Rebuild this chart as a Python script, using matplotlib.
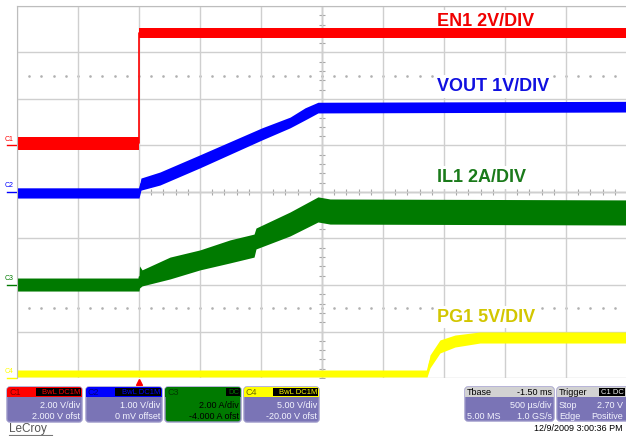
import numpy as np
import matplotlib.pyplot as plt
import matplotlib.transforms as mtransforms
from matplotlib.patches import FancyBboxPatch, Rectangle

plt.rcParams['font.family'] = ['Liberation Sans', 'DejaVu Sans']

# canales: nombre, V/div, offset, color de traza
ch_names = ['C1', 'C2', 'C3', 'C4']
ch_vdiv = [2.0, 1.0, 2.0, 5.0]
ch_ofst = [2.0, 0.0, -4.0, -20.0]
ch_colors = ['#ff0000', '#0000ff', '#007a00', '#ffff00']

# base de tiempo: 500 us/div, disparo en t=0, 10 divisiones
t_ini = -1.0
t_fin = 4.0

# EN1 (V) - limites inferior/superior de la banda de ruido
en1_t = [-1.0, 0.0, 0.0, 4.0]
en1_lo = [-0.19, -0.19, 4.62, 4.62]
en1_hi = [0.37, 0.37, 5.05, 5.05]

# VOUT (V)
vout_t = [-1.0, 0.0, 0.016, 0.172, 0.5, 1.008, 1.238, 1.361, 1.467, 4.0]
vout_lo = [-0.13, -0.13, 0.04, 0.15, 0.52, 1.12, 1.38, 1.55, 1.70, 1.72]
vout_hi = [0.09, 0.09, 0.30, 0.43, 0.80, 1.38, 1.61, 1.81, 1.93, 1.95]

# IL1 (A)
il1_t = [-1.0, 0.0, 0.004, 0.025, 0.254, 0.5, 0.746, 0.943, 0.959, 1.238, 1.467, 1.566, 4.0]
il1_lo = [-0.26, -0.26, -0.13, -0.04, 0.26, 0.65, 0.95, 1.20, 1.55, 2.11, 2.71, 2.62, 2.58]
il1_hi = [0.30, 0.30, 0.82, 0.65, 1.20, 1.51, 1.94, 2.19, 2.45, 3.14, 3.79, 3.70, 3.66]

# PG1 (V)
pg1_t = [-1.0, 2.361, 2.385, 2.467, 2.590, 2.795, 4.0]
pg1_lo = [0.11, 0.11, 1.08, 2.69, 3.33, 3.76, 3.76]
pg1_hi = [0.86, 0.86, 2.47, 4.09, 4.62, 4.95, 4.95]

etiquetas = ['EN1 2V/DIV', 'VOUT 1V/DIV', 'IL1 2A/DIV', 'PG1 5V/DIV']
etiq_colors = ['#f00000', '#1010e0', '#1a7a1a', '#d2c600']
etiq_y = [7.67, 6.27, 4.31, 1.31]  # en divisiones
etiq_t = 2.443


def a_div(v, i):
    # valor fisico -> divisiones de pantalla (0 abajo, 8 arriba)
    return 4 + (np.asarray(v) + ch_ofst[i]) / ch_vdiv[i]


fig = plt.figure(figsize=(6.26, 4.36), dpi=100)
ax = fig.add_axes([17 / 626, 58 / 436, 610 / 626, 372 / 436])
ax.set_xlim(t_ini, t_fin)
ax.set_ylim(0, 8)

# reticula
ax.set_xticks(np.arange(t_ini, t_fin + 0.01, 0.5))
ax.set_yticks(np.arange(0, 8.1, 1))
ax.tick_params(length=0, labelbottom=False, labelleft=False)
ax.grid(color='#cfcfcf', lw=1)
ax.set_axisbelow(True)
for s in ['right', 'bottom']:
    ax.spines[s].set_visible(False)
for s in ['left', 'top']:
    ax.spines[s].set_color('#bdbdbd')

# ejes centrales con marcas
t_c = (t_ini + t_fin) / 2
ax.axhline(4, color='#a8a8a8', lw=1, zorder=0.5)
ax.axvline(t_c, color='#a8a8a8', lw=1, zorder=0.5)
ax.plot(np.arange(t_ini, t_fin, 0.1), np.full(50, 4.0), ls='none', marker='|', ms=4,
        color='#a8a8a8', mew=0.8, zorder=0.5)
ax.plot(np.full(40, t_c), np.arange(0, 8, 0.2), ls='none', marker='_', ms=4,
        color='#a8a8a8', mew=0.8, zorder=0.5)
for yd in [1.5, 6.5]:
    ax.plot(np.arange(t_ini + 0.1, t_fin, 0.1), np.full(49, yd), ls='none', marker='s',
            ms=0.8, color='#b0b0b0', zorder=0.5)

# trazas
trazas = [(pg1_t, pg1_lo, pg1_hi, 3), (il1_t, il1_lo, il1_hi, 2),
          (vout_t, vout_lo, vout_hi, 1), (en1_t, en1_lo, en1_hi, 0)]
for t, lo, hi, i in trazas:
    lo_d = a_div(lo, i)
    hi_d = a_div(hi, i)
    ax.fill_between(t, lo_d, hi_d, color=ch_colors[i], lw=0, zorder=2)
    ax.plot(t, (lo_d + hi_d) / 2, color=ch_colors[i], lw=1.2, zorder=2)

# rotulos de cada canal (fondo blanco sobre la reticula, bajo las trazas)
for txt, col, yy in zip(etiquetas, etiq_colors, etiq_y):
    ax.text(etiq_t, yy, txt, color=col, fontsize=13, fontweight='bold', ha='left',
            va='center', zorder=1.5,
            bbox=dict(facecolor='white', edgecolor='none', pad=2))

# marcadores de tierra a la izquierda
trans = mtransforms.blended_transform_factory(ax.transAxes, ax.transData)
for i, nm in enumerate(ch_names):
    g = a_div(0.0, i)
    ax.plot([-0.017, -0.002], [g, g], transform=trans, color=ch_colors[i], lw=1,
            clip_on=False)
    ax.text(-0.020, g + 0.06, nm, transform=trans, color=ch_colors[i], fontsize=5,
            ha='left', va='bottom', clip_on=False)

# marcador de disparo
ax.plot([0.0], [-0.011], marker='^', ms=4.5, color='#ff0000', clip_on=False,
        transform=mtransforms.blended_transform_factory(ax.transData, ax.transAxes))

# panel inferior en pixeles
pan = fig.add_axes([0, 0, 1, 1])
pan.set_xlim(0, 626)
pan.set_ylim(436, 0)
pan.axis('off')
pan.patch.set_alpha(0)

morado = '#7a74b6'
borde = '#9a96c8'


def caja(x0, x1, y0, y1, cab_col, cuerpo_col):
    pan.add_patch(FancyBboxPatch((x0, y0), x1 - x0, y1 - y0,
                                 boxstyle='round,pad=0,rounding_size=3',
                                 fc=cuerpo_col, ec=borde, lw=1))
    pan.add_patch(FancyBboxPatch((x0, y0), x1 - x0, 10,
                                 boxstyle='round,pad=0,rounding_size=3',
                                 fc=cab_col, ec='none'))
    pan.add_patch(Rectangle((x0, y0 + 5), x1 - x0, 5, fc=cab_col, ec='none'))


def etiqueta_negra(x0, x1, y0, txt, col):
    pan.add_patch(Rectangle((x0, y0 + 1), x1 - x0, 8, fc='black', ec='none'))
    pan.text(x1 - 1, y0 + 5.2, txt, color=col, fontsize=5.5, ha='right', va='center')


cajas = [(7, 82), (86, 162), (165, 241), (244, 319)]
cab_txt = ['#7a0000', '#00007a', '#003a00', '#6a6a00']
tags = ['BwL DC1M', 'BwL DC1M', 'DC', 'BwL DC1M']
tag_x0 = [36, 115, 226, 273]
lin1 = ['2.00 V/div', '1.00 V/div', '2.00 A/div', '5.00 V/div']
lin2 = ['2.000 V ofst', '0 mV offset', '-4.000 A ofst', '-20.00 V ofst']
for i, (x0, x1) in enumerate(cajas):
    cuerpo = ch_colors[i] if i == 2 else morado
    txt_col = 'black' if i == 2 else '#f4f4ff'
    caja(x0, x1, 387, 422, ch_colors[i], cuerpo)
    pan.text(x0 + 2, 392, ch_names[i], color=cab_txt[i], fontsize=6.5, ha='left', va='center')
    etiqueta_negra(tag_x0[i], x1 - 1, 387, tags[i], ch_colors[i])
    pan.text(x1 - 2, 405, lin1[i], color=txt_col, fontsize=6.5, ha='right', va='center')
    pan.text(x1 - 2, 416, lin2[i], color=txt_col, fontsize=6.5, ha='right', va='center')

# base de tiempo y disparo
caja(465, 554, 387, 421, '#d2d2d2', morado)
pan.text(467, 392.5, 'Tbase', color='black', fontsize=6.5, ha='left', va='center')
pan.text(552, 392.5, '-1.50 ms', color='black', fontsize=6.5, ha='right', va='center')
pan.text(552, 405, '500 µs/div', color='#f4f4ff', fontsize=6.5, ha='right', va='center')
pan.text(467, 416, '5.00 MS', color='#f4f4ff', fontsize=6.5, ha='left', va='center')
pan.text(552, 416, '1.0 GS/s', color='#f4f4ff', fontsize=6.5, ha='right', va='center')

caja(557, 640, 387, 421, '#d2d2d2', morado)
pan.text(559, 392.5, 'Trigger', color='black', fontsize=6.5, ha='left', va='center')
etiqueta_negra(599, 625, 387, 'C1 DC', '#f0f0f0')
pan.text(559, 405, 'Stop', color='#f4f4ff', fontsize=6.5, ha='left', va='center')
pan.text(623, 405, '2.70 V', color='#f4f4ff', fontsize=6.5, ha='right', va='center')
pan.text(559, 416, 'Edge', color='#f4f4ff', fontsize=6.5, ha='left', va='center')
pan.text(623, 416, 'Positive', color='#f4f4ff', fontsize=6.5, ha='right', va='center')

pan.text(623, 428.5, '12/9/2009 3:00:36 PM', color='black', fontsize=6.5, ha='right',
         va='center')
pan.text(9, 429, 'LeCroy', color='#555555', fontsize=8.5, ha='left', va='center')
pan.plot([9, 52], [434.5, 434.5], color='#777777', lw=0.8)

fig.savefig('out.png', dpi=100, facecolor='white')
